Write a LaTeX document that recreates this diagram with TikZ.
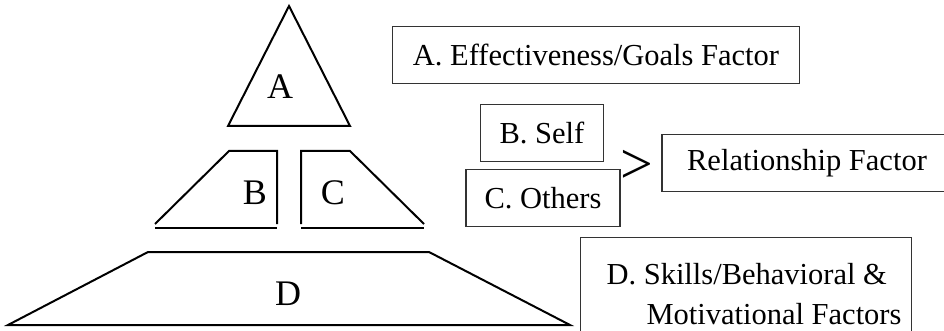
\documentclass[tikz,border=0pt]{standalone}
\usepackage{fontspec}
\setmainfont{Liberation Serif}
\usetikzlibrary{positioning}

\begin{document}
\begin{tikzpicture}[x=1pt,y=-1pt,
	part/.style = {line width=2pt, line join=miter},
	lbl/.style = {font=\fontsize{36}{40}\selectfont, inner sep=0pt},
	factor/.style = {draw=black!80, line width=1.2pt, font=\fontsize{30.5}{40}\selectfont,
		minimum height=57pt, inner sep=0pt}]
	\useasboundingbox (0,0) rectangle (944,331);
	\clip (0,0) rectangle (944,331);
	% pyramid
	\draw[part] (228,126) -- (289,6) -- (350,126) -- cycle;
	\draw[part] (155,224) -- (229,151) -- (277,151) -- (277,224);
	\draw[part] (155,228) -- (277,228);
	\draw[part] (424,224) -- (350,151) -- (301,151) -- (301,224);
	\draw[part] (301,228) -- (424,228);
	\draw[part] (8,325) -- (148,252) -- (429,252) -- (570,325) -- cycle;
	\node[lbl] (lA) at (280,87) {A};
	\node[lbl] (lB) at (255,193) {B};
	\node[lbl] (lC) at (333,193) {C};
	\node[lbl] (lD) at (288,294) {D};
	% factors
	\node[factor, minimum width=407pt] (goals) at (596,55) {A. Effectiveness/Goals Factor};
	\node[factor, minimum width=123pt] (self) at (542,133) {B. Self};
	\node[factor, minimum width=154pt] (others) at (543,198) {C. Others};
	\node[font=\fontsize{58}{58}\selectfont, inner sep=0pt] (gt) at (637,167) {>};
	\node[factor, minimum width=290pt] (rel) at (807,163) {Relationship Factor};
	\node[factor, minimum width=331pt, align=left, anchor=north, inner ysep=26pt]
		(skills) at (746,237) {\hspace{16pt}D. Skills/Behavioral \&\\\hspace{56pt}Motivational Factors};
\end{tikzpicture}
\end{document}
